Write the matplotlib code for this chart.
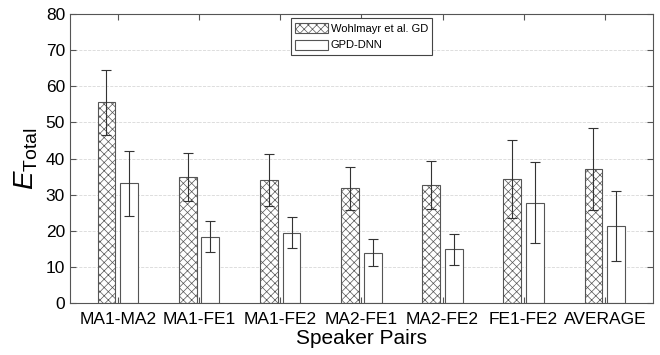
import numpy as np
import matplotlib.pyplot as plt

plt.rcParams['font.family'] = ['Liberation Sans', 'DejaVu Sans']
plt.rcParams['mathtext.fontset'] = 'custom'
plt.rcParams['mathtext.rm'] = 'Liberation Sans'
plt.rcParams['mathtext.it'] = 'Liberation Sans:italic'
plt.rcParams['hatch.linewidth'] = 0.5
plt.rcParams['hatch.color'] = '#555555'

pairs = ['MA1-MA2', 'MA1-FE1', 'MA1-FE2', 'MA2-FE1', 'MA2-FE2', 'FE1-FE2', 'AVERAGE']
gd_mean = [55.6, 34.8, 34.1, 31.8, 32.7, 34.3, 37.2]
gd_err = [9.0, 6.6, 7.1, 5.9, 6.6, 10.7, 11.3]
dnn_mean = [33.2, 18.4, 19.5, 14.0, 14.9, 27.8, 21.3]
dnn_err = [9.0, 4.3, 4.2, 3.7, 4.3, 11.2, 9.6]

x = np.arange(1, len(pairs) + 1)
w = 0.22

fig = plt.figure(figsize=(6.6, 3.55), dpi=100)
ax = fig.add_axes([0.106, 0.146, 0.883, 0.815])

ax.bar(x - 0.14, gd_mean, w, color='white', edgecolor='#555555', hatch='xxxx',
       linewidth=0.8, label='Wohlmayr et al. GD', zorder=2)
ax.bar(x + 0.14, dnn_mean, w, color='white', edgecolor='#555555',
       linewidth=0.8, label='GPD-DNN', zorder=2)
ax.errorbar(x - 0.14, gd_mean, yerr=gd_err, fmt='none', ecolor='#333333',
            elinewidth=0.8, capsize=3.6, capthick=0.8, zorder=3)
ax.errorbar(x + 0.14, dnn_mean, yerr=dnn_err, fmt='none', ecolor='#333333',
            elinewidth=0.8, capsize=3.6, capthick=0.8, zorder=3)

ax.set_xlim(0.41, 7.59)
ax.set_ylim(0, 80)
ax.set_yticks(np.arange(0, 81, 10))
ax.set_xticks(x)
ax.set_xticklabels(pairs)
ax.yaxis.grid(True, linestyle='--', color='#d8d8d8', linewidth=0.6, zorder=0)
ax.tick_params(direction='in', top=True, right=True, labelsize=12.5, length=4,
               color='#555555')
ax.tick_params(axis='x', pad=6)
for s in ax.spines.values():
    s.set_color('#555555')
    s.set_linewidth(0.8)

ax.set_xlabel('Speaker Pairs', fontsize=15, labelpad=2)
ax.set_ylabel(r'$E_{\mathrm{Total}}$', fontsize=20, labelpad=4)

leg = ax.legend(loc='upper center', fontsize=8, fancybox=False, framealpha=1,
                edgecolor='#444444', handlelength=3.0, handleheight=1.0,
                handletextpad=0.2, borderaxespad=0.4, labelspacing=0.55,
                borderpad=0.4)
leg.get_frame().set_linewidth(0.8)

fig.savefig('out.png', dpi=100)
